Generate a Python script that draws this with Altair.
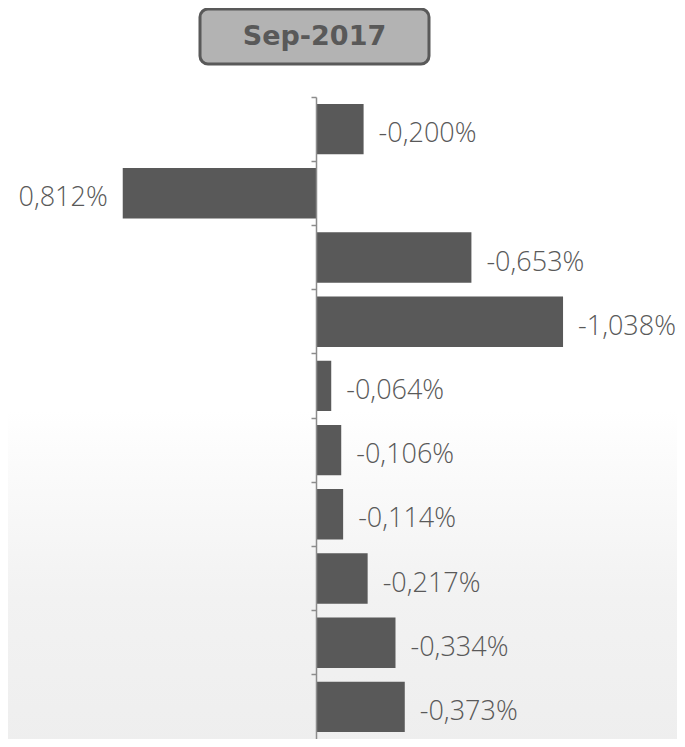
import altair as alt
import pandas as pd

# ---- data ----
categories = ["C1", "C2", "C3", "C4", "C5", "C6", "C7", "C8", "C9", "C10"]
values = [-0.200, 0.812, -0.653, -1.038, -0.064, -0.106, -0.114, -0.217, -0.334, -0.373]
labels = [f"{v:.3f}".replace(".", ",") + "%" for v in values]
title_text = "Sep-2017"

df = pd.DataFrame({"cat": categories, "value": values, "label": labels})

W, H = 669, 642
x_scale = alt.Scale(domain=[-1.5168, 1.2941], reverse=True, nice=False, zero=False)
y_enc = alt.Y("cat:N", sort=None,
              scale=alt.Scale(paddingInner=0, paddingOuter=0),
              axis=alt.Axis(offset=-308, labels=False, title=None, grid=False,
                            tickSize=5, bandPosition=0, domainColor="#8c8c8c",
                            tickColor="#8c8c8c", domainWidth=1.5, tickWidth=1.5,
                            zindex=1))

one = pd.DataFrame({"k": [0]})

bg = alt.Chart(one).mark_rect(
    color=alt.LinearGradient(
        gradient="linear", x1=0, x2=0, y1=0, y2=1,
        stops=[alt.GradientStop(color="#ffffff", offset=0),
               alt.GradientStop(color="#ffffff", offset=0.55),
               alt.GradientStop(color="#fbfbfb", offset=0.62),
               alt.GradientStop(color="#f2f2f2", offset=0.80),
               alt.GradientStop(color="#eeeeee", offset=1)])
).encode(x=alt.value(-8), x2=alt.value(W + 8), y=alt.value(-97), y2=alt.value(H + 8))

bars = alt.Chart(df).mark_bar(color="#595959", height={"band": 0.785}).encode(
    x=alt.X("value:Q", scale=x_scale, axis=None),
    y=y_enc,
)

text_style = dict(fontSize=27, font="Open Sans", fontWeight=300,
                  color="#595959", baseline="middle", dy=5)

lab_neg = alt.Chart(df).transform_filter("datum.value < 0").mark_text(
    align="left", dx=15, **text_style
).encode(x=alt.X("value:Q", scale=x_scale, axis=None), y=alt.Y("cat:N", sort=None), text="label:N")

lab_pos = alt.Chart(df).transform_filter("datum.value >= 0").mark_text(
    align="right", dx=-15, **text_style
).encode(x=alt.X("value:Q", scale=x_scale, axis=None), y=alt.Y("cat:N", sort=None), text="label:N")

box = alt.Chart(one).mark_rect(
    fill="#b3b3b3", stroke="#595959", strokeWidth=3, cornerRadius=8
).encode(x=alt.value(192), x2=alt.value(421), y=alt.value(-88), y2=alt.value(-33))

title = alt.Chart(pd.DataFrame({"t": [title_text]})).mark_text(
    font="DejaVu Sans", fontWeight="bold", fontSize=27, color="#595959",
    align="center", baseline="middle"
).encode(x=alt.value(306.5), y=alt.value(-60), text="t:N")

chart = alt.layer(bg, bars, lab_neg, lab_pos, box, title).properties(
    width=W, height=H,
    autosize=alt.AutoSizeParams(type="none"),
    padding={"left": 0, "right": 0, "top": 89, "bottom": 0},
    background="#ffffff",
).configure_view(stroke=None)

chart.save("out.html", embed_options={"renderer": "svg", "actions": False})
